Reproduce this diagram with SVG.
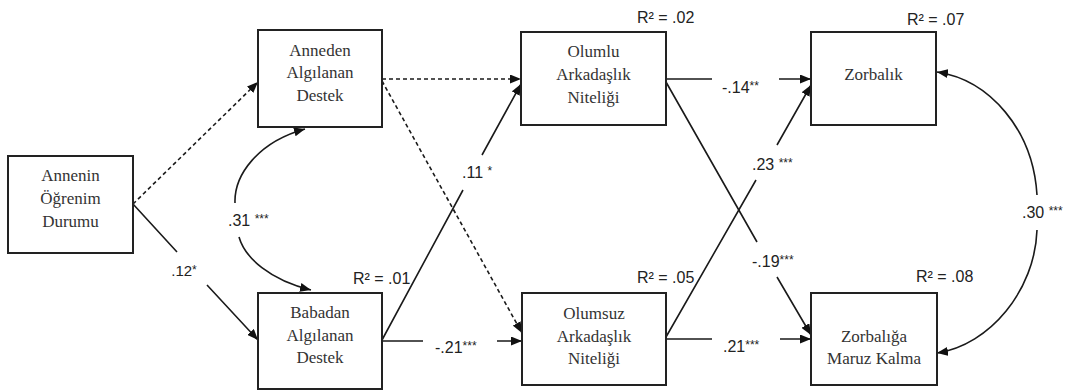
<svg xmlns="http://www.w3.org/2000/svg" width="1071" height="391" viewBox="0 0 1071 391">
<style>
.box{fill:#fff;stroke:#222;stroke-width:2}
.nt{font-family:"Liberation Serif","Times New Roman",serif;font-size:17px;fill:#333;text-anchor:middle}
.ln{fill:none;stroke:#1a1a1a;stroke-width:1.6}
.ds{stroke-dasharray:4 3}
.lb{font-family:"Liberation Sans",Arial,sans-serif;font-size:16px;fill:#222}
.st{font-size:12px}
</style>
<defs>
<marker id="ah" markerUnits="userSpaceOnUse" markerWidth="11" markerHeight="9" refX="11" refY="4.5" orient="auto-start-reverse">
<path d="M0,0 L11,4.5 L0,9 z" fill="#111"/>
</marker>
</defs>
<rect width="1071" height="391" fill="#fff"/>

<g id="connectors">
<path class="ln ds" d="M133,204 L258,82" marker-end="url(#ah)"/>
<path class="ln" d="M133,204 L177,252 M207,285 L258,340" marker-end="url(#ah)"/>
<path class="ln ds" d="M382,79 L521,79" marker-end="url(#ah)"/>
<path class="ln ds" d="M382,81 L522,333" marker-end="url(#ah)"/>
<path class="ln" d="M382,340 L463,190 M482,155 L521,84" marker-end="url(#ah)"/>
<path class="ln" d="M382,341 L423,341 M497,341 L522,341" marker-end="url(#ah)"/>
<path class="ln" d="M666,79 L712,79 M779,79 L811,79" marker-end="url(#ah)"/>
<path class="ln" d="M666,82 L757,242 M777,277 L811,335" marker-end="url(#ah)"/>
<path class="ln" d="M666,337 L756,180 M777,145 L811,85" marker-end="url(#ah)"/>
<path class="ln" d="M666,339 L712,339 M780,339 L811,339" marker-end="url(#ah)"/>
<path class="ln" d="M235,203 C234,175 258,142 305,129" marker-end="url(#ah)"/>
<path class="ln" d="M239,237 C245,258 270,280 311,290" marker-end="url(#ah)"/>
<path class="ln" d="M1037,195 C1033,130 990,80 937,72" marker-end="url(#ah)"/>
<path class="ln" d="M1037,230 C1035,290 990,345 937,353" marker-end="url(#ah)"/>
<text class="lb" x="184" y="276" text-anchor="middle" style="font-size:15px">.12<tspan class="st" dy="-2">*</tspan></text>
<text class="lb" x="228" y="226">.31 <tspan class="st" dy="-3">***</tspan></text>
<text class="lb" x="462" y="178">.11 <tspan class="st" dy="-3">*</tspan></text>
<text class="lb" x="435" y="353">-.21<tspan class="st" dy="-3">***</tspan></text>
<text class="lb" x="722" y="93">-.14<tspan class="st" dy="-3">**</tspan></text>
<text class="lb" x="752" y="170">.23 <tspan class="st" dy="-3">***</tspan></text>
<text class="lb" x="752" y="267">-.19<tspan class="st" dy="-3">***</tspan></text>
<text class="lb" x="723" y="352">.21<tspan class="st" dy="-3">***</tspan></text>
<text class="lb" x="1022" y="218">.30 <tspan class="st" dy="-3">***</tspan></text>
</g>

<g id="annenin">
<rect class="box" x="8" y="156" width="125" height="97"/>
<text class="nt" x="70.5" y="181">Annenin</text>
<text class="nt" x="70.5" y="204">Öğrenim</text>
<text class="nt" x="70.5" y="227">Durumu</text>
</g>

<g id="anneden">
<rect class="box" x="258" y="30" width="124" height="97"/>
<text class="nt" x="320" y="56">Anneden</text>
<text class="nt" x="320" y="78">Algılanan</text>
<text class="nt" x="320" y="101">Destek</text>
</g>

<g id="babadan">
<rect class="box" x="258" y="293" width="124" height="96"/>
<text class="nt" x="320" y="318">Babadan</text>
<text class="nt" x="320" y="341">Algılanan</text>
<text class="nt" x="320" y="363">Destek</text>
<text class="lb" x="353" y="284">R² = .01</text>
</g>

<g id="olumlu">
<rect class="box" x="521" y="32" width="145" height="93"/>
<text class="nt" x="593.5" y="57">Olumlu</text>
<text class="nt" x="593.5" y="80">Arkadaşlık</text>
<text class="nt" x="593.5" y="103">Niteliği</text>
<text class="lb" x="637" y="23">R² = .02</text>
</g>

<g id="olumsuz">
<rect class="box" x="522" y="293" width="144" height="92"/>
<text class="nt" x="594" y="319">Olumsuz</text>
<text class="nt" x="594" y="342">Arkadaşlık</text>
<text class="nt" x="594" y="364">Niteliği</text>
<text class="lb" x="637" y="283">R² = .05</text>
</g>

<g id="zorbalik">
<rect class="box" x="811" y="32" width="125" height="93"/>
<text class="nt" x="873.5" y="80">Zorbalık</text>
<text class="lb" x="907" y="25">R² = .07</text>
</g>

<g id="zorbaliga">
<rect class="box" x="811" y="293" width="126" height="92"/>
<text class="nt" x="874" y="342">Zorbalığa</text>
<text class="nt" x="874" y="364">Maruz Kalma</text>
<text class="lb" x="916" y="282">R² = .08</text>
</g>
</svg>
